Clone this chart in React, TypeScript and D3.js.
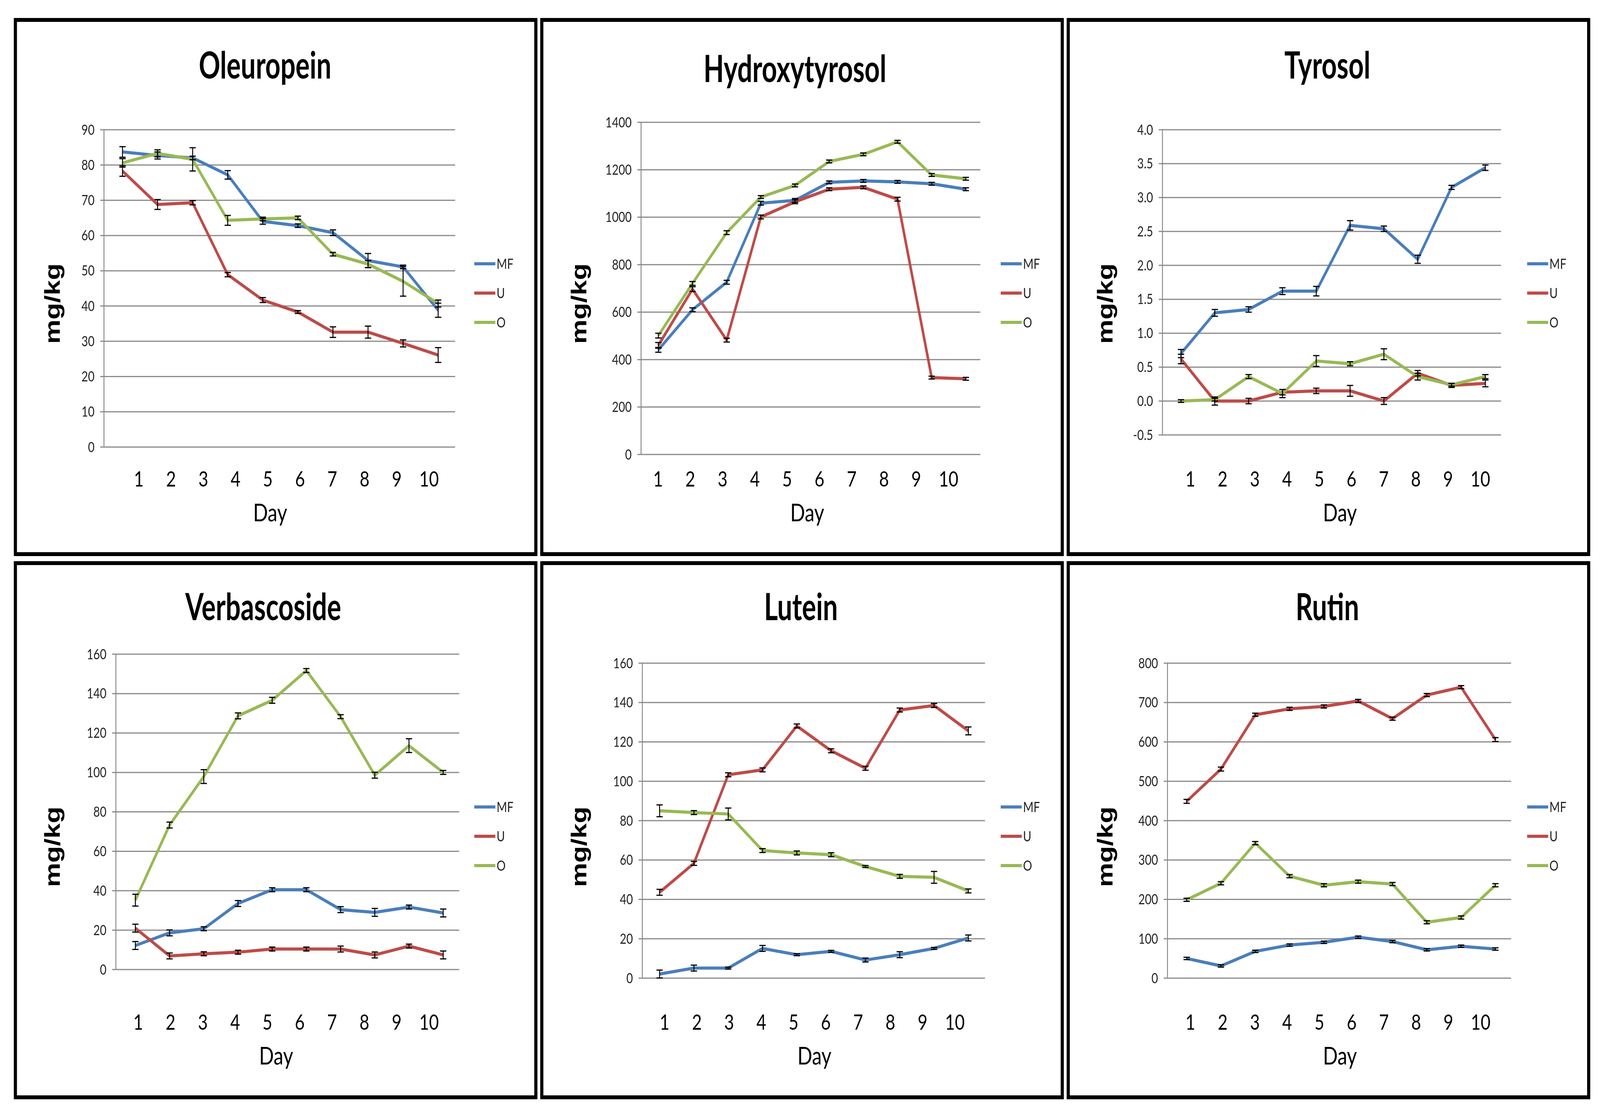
import { useEffect, useRef } from "react";
import * as d3 from "d3";

// shared
const DAYS = [1, 2, 3, 4, 5, 6, 7, 8, 9, 10];
const SERIES = ["MF", "U", "O"];
const COLORS = ["#4A7EBB", "#BE4B48", "#98B954"];

// Oleuropein
const OLE_TICKS = [0, 10, 20, 30, 40, 50, 60, 70, 80, 90];
const OLE_MF = [83.7, 82.7, 82.0, 77.2, 64.0, 62.8, 60.8, 52.9, 51.1, 38.8];
const OLE_U = [78.3, 68.8, 69.3, 48.9, 41.7, 38.3, 32.6, 32.6, 29.4, 26.1];
const OLE_O = [80.6, 83.3, 81.6, 64.3, 64.7, 65.0, 54.7, 51.9, 47.0, 40.7];
const OLE_MF_ERR = [1.5, 1.0, 0.5, 1.2, 0.8, 0.5, 0.8, 2.0, 0.5, 2.0];
const OLE_U_ERR = [1.5, 1.4, 0.6, 0.6, 0.7, 0.4, 1.5, 1.7, 1.0, 2.1];
const OLE_O_ERR = [1.2, 1.0, 3.3, 1.4, 0.5, 0.5, 0.5, 1.0, 4.2, 1.0];

// Hydroxytyrosol
const HYD_TICKS = [0, 200, 400, 600, 800, 1000, 1200, 1400];
const HYD_MF = [441, 610, 726, 1059, 1071, 1147, 1153, 1149, 1141, 1118];
const HYD_U = [460, 697, 482, 1001, 1065, 1118, 1126, 1076, 324, 319];
const HYD_O = [501, 721, 935, 1085, 1134, 1235, 1265, 1318, 1178, 1162];
const HYD_MF_ERR = [10, 8, 8, 8, 8, 6, 6, 6, 6, 6];
const HYD_U_ERR = [12, 10, 8, 8, 8, 6, 6, 8, 6, 6];
const HYD_O_ERR = [10, 8, 8, 6, 6, 6, 6, 6, 6, 6];

// Tyrosol
const TYR_TICKS = [-0.5, 0, 0.5, 1.0, 1.5, 2.0, 2.5, 3.0, 3.5, 4.0];
const TYR_MF = [0.7, 1.3, 1.35, 1.62, 1.62, 2.59, 2.54, 2.09, 3.15, 3.44];
const TYR_U = [0.62, 0.0, 0.0, 0.13, 0.15, 0.15, 0.0, 0.41, 0.23, 0.26];
const TYR_O = [0.0, 0.02, 0.36, 0.11, 0.59, 0.55, 0.69, 0.36, 0.24, 0.36];
const TYR_MF_ERR = [0.06, 0.05, 0.04, 0.05, 0.07, 0.07, 0.04, 0.06, 0.03, 0.04];
const TYR_U_ERR = [0.07, 0.06, 0.04, 0.04, 0.04, 0.08, 0.05, 0.04, 0.03, 0.05];
const TYR_O_ERR = [0.02, 0.02, 0.03, 0.06, 0.08, 0.03, 0.08, 0.05, 0.02, 0.03];

// Verbascoside
const VER_TICKS = [0, 20, 40, 60, 80, 100, 120, 140, 160];
const VER_MF = [12.2, 18.6, 20.7, 33.5, 40.5, 40.5, 30.4, 29.0, 31.7, 28.7];
const VER_U = [21.0, 6.9, 8.0, 8.8, 10.4, 10.4, 10.4, 7.4, 11.9, 7.4];
const VER_O = [35.2, 73.3, 97.9, 128.7, 136.6, 151.7, 128.3, 98.6, 113.6, 100.0];
const VER_MF_ERR = [2, 1.5, 1, 1.5, 1, 1, 1.5, 2, 1, 2];
const VER_U_ERR = [2, 1.5, 1, 1, 1, 1, 1.5, 1.5, 1, 2];
const VER_O_ERR = [3, 1.5, 3.5, 1.5, 1.5, 1, 1, 1.5, 3.5, 1];

// Lutein
const LUT_TICKS = [0, 20, 40, 60, 80, 100, 120, 140, 160];
const LUT_MF = [2.1, 5.1, 5.1, 15.1, 11.9, 13.6, 9.2, 11.9, 15.1, 20.4];
const LUT_U = [43.6, 58.3, 103.3, 105.8, 128.1, 115.5, 106.6, 136.2, 138.5, 125.6];
const LUT_O = [85.0, 84.1, 83.4, 64.8, 63.6, 62.7, 56.7, 51.7, 51.2, 44.3];
const LUT_MF_ERR = [2, 1.5, 0.5, 1.5, 0.5, 0.5, 1, 1.5, 0.5, 1.5];
const LUT_U_ERR = [1.5, 1, 1, 1, 1, 1, 1, 1, 1, 2];
const LUT_O_ERR = [3, 1, 3, 1, 1, 1, 0.5, 1, 3, 1];

// Rutin
const RUT_TICKS = [0, 100, 200, 300, 400, 500, 600, 700, 800];
const RUT_MF = [50, 31, 68, 84, 91, 104, 93, 72, 81, 74];
const RUT_U = [449, 531, 669, 684, 690, 704, 659, 719, 739, 606];
const RUT_O = [199, 241, 343, 259, 236, 245, 239, 142, 154, 236];
const RUT_MF_ERR = [3, 3, 3, 3, 3, 3, 3, 3, 3, 3];
const RUT_U_ERR = [5, 5, 4, 4, 4, 4, 4, 4, 4, 5];
const RUT_O_ERR = [4, 4, 4, 4, 4, 4, 4, 4, 4, 4];

type Panel = {
  title: string;
  ticks: number[];
  fmt: (v: number) => string;
  values: number[][];
  errors: number[][];
  // layout inside the frame
  ox: number;
  oy: number;
  axis: [number, number, number, number]; // left, right, top, bottom
  pts: [number, number];
  lbl: [number, number];
  titleX: number;
  titleY: number;
  dayX: number;
};

const int = (v: number) => String(v);
const one = (v: number) => v.toFixed(1);

const PANELS: Panel[] = [
  { title: "Oleuropein", ticks: OLE_TICKS, fmt: int, values: [OLE_MF, OLE_U, OLE_O], errors: [OLE_MF_ERR, OLE_U_ERR, OLE_O_ERR],
    ox: 49, oy: 51, axis: [282, 1400, 281, 1093], pts: [341, 1346], lbl: [393, 1317], titleX: 795, titleY: 150, dayX: 811 },
  { title: "Hydroxytyrosol", ticks: HYD_TICKS, fmt: int, values: [HYD_MF, HYD_U, HYD_O], errors: [HYD_MF_ERR, HYD_U_ERR, HYD_O_ERR],
    ox: 1725, oy: 51, axis: [316, 1396, 262, 1112], pts: [371, 1350], lbl: [370, 1295], titleX: 806, titleY: 159, dayX: 845 },
  { title: "Tyrosol", ticks: TYR_TICKS, fmt: one, values: [TYR_MF, TYR_U, TYR_O], errors: [TYR_MF_ERR, TYR_U_ERR, TYR_O_ERR],
    ox: 3401, oy: 51, axis: [300, 1378, 281, 1062], pts: [359, 1328], lbl: [389, 1312], titleX: 825, titleY: 150, dayX: 865 },
  { title: "Verbascoside", ticks: VER_TICKS, fmt: int, values: [VER_MF, VER_U, VER_O], errors: [VER_MF_ERR, VER_U_ERR, VER_O_ERR],
    ox: 49, oy: 1441, axis: [320, 1413, 233, 1040], pts: [382, 1362], lbl: [391, 1317], titleX: 789, titleY: 146, dayX: 830 },
  { title: "Lutein", ticks: LUT_TICKS, fmt: int, values: [LUT_MF, LUT_U, LUT_O], errors: [LUT_MF_ERR, LUT_U_ERR, LUT_O_ERR],
    ox: 1725, oy: 1441, axis: [320, 1411, 256, 1062], pts: [375, 1358], lbl: [391, 1315], titleX: 825, titleY: 146, dayX: 868 },
  { title: "Rutin", ticks: RUT_TICKS, fmt: int, values: [RUT_MF, RUT_U, RUT_O], errors: [RUT_MF_ERR, RUT_U_ERR, RUT_O_ERR],
    ox: 3401, oy: 1441, axis: [316, 1410, 256, 1062], pts: [377, 1360], lbl: [389, 1313], titleX: 825, titleY: 146, dayX: 865 },
];

const W = 5094;
const H = 2843;
const FW = 1657;
const FH = 1367;
const FONT = "Lato, 'Open Sans', sans-serif";

export default function App() {
  const ref = useRef<SVGSVGElement>(null);

  useEffect(() => {
    document.body.style.margin = "0";
    if (!ref.current) return;
    const svg = d3.select(ref.current);
    svg.selectAll("*").remove();

    svg.append("rect").attr("width", W).attr("height", H).attr("fill", "#fff");

    PANELS.forEach((p) => {
      const g = svg.append("g").attr("transform", `translate(${p.ox},${p.oy})`);
      const [left, right, top, bottom] = p.axis;

      // frame
      g.append("rect")
        .attr("x", 0)
        .attr("y", 0)
        .attr("width", FW)
        .attr("height", FH)
        .attr("fill", "#fff")
        .attr("stroke", "#000")
        .attr("stroke-width", 10);

      // title, a bit condensed like the original
      g.append("text")
        .attr("transform", `translate(${p.titleX},${p.titleY}) scale(0.88,1)`)
        .attr("text-anchor", "middle")
        .attr("font-family", FONT)
        .attr("font-weight", 700)
        .attr("font-size", 96)
        .attr("fill", "#000")
        .text(p.title);

      const y = d3
        .scaleLinear()
        .domain([p.ticks[0], p.ticks[p.ticks.length - 1]])
        .range([bottom, top]);
      const x = d3.scalePoint<number>().domain(DAYS).range(p.pts);
      const xl = d3.scalePoint<number>().domain(DAYS).range(p.lbl);

      // gridlines
      g.append("g")
        .selectAll("line")
        .data(p.ticks)
        .join("line")
        .attr("x1", left - 12)
        .attr("x2", right)
        .attr("y1", (d) => y(d))
        .attr("y2", (d) => y(d))
        .attr("stroke", "#8a8a8a")
        .attr("stroke-width", 3);

      // y axis
      g.append("line")
        .attr("x1", left)
        .attr("x2", left)
        .attr("y1", top)
        .attr("y2", bottom)
        .attr("stroke", "#8a8a8a")
        .attr("stroke-width", 3);

      // y tick labels
      g.append("g")
        .selectAll("text")
        .data(p.ticks)
        .join("text")
        .attr("x", left - 30)
        .attr("y", (d) => y(d))
        .attr("dy", "0.35em")
        .attr("text-anchor", "end")
        .attr("font-family", FONT)
        .attr("font-size", 36)
        .attr("fill", "#222")
        .text((d) => p.fmt(d));

      // x labels
      g.append("g")
        .selectAll("text")
        .data(DAYS)
        .join("text")
        .attr("x", (d) => xl(d) ?? 0)
        .attr("y", 1175)
        .attr("dy", "0.35em")
        .attr("text-anchor", "middle")
        .attr("font-family", FONT)
        .attr("font-size", 54)
        .attr("fill", "#000")
        .text((d) => String(d));

      g.append("text")
        .attr("x", p.dayX)
        .attr("y", 1261)
        .attr("dy", "0.35em")
        .attr("text-anchor", "middle")
        .attr("font-family", FONT)
        .attr("font-size", 62)
        .attr("fill", "#000")
        .text("Day");

      g.append("text")
        .attr("transform", `translate(117,726) rotate(-90)`)
        .attr("dy", "0.35em")
        .attr("text-anchor", "middle")
        .attr("font-family", "'Liberation Sans', Arial, sans-serif")
        .attr("font-weight", 700)
        .attr("font-size", 70)
        .attr("fill", "#000")
        .text("mg/kg");

      const line = d3
        .line<number>()
        .x((_, i) => x(DAYS[i]) ?? 0)
        .y((d) => y(d));

      // series lines
      p.values.forEach((vals, s) => {
        g.append("path")
          .datum(vals)
          .attr("fill", "none")
          .attr("stroke", COLORS[s])
          .attr("stroke-width", 8)
          .attr("stroke-linejoin", "round")
          .attr("d", line);
      });

      // error bars
      p.values.forEach((vals, s) => {
        const eg = g.append("g").attr("stroke", "#000").attr("stroke-width", 3);
        vals.forEach((v, i) => {
          const cx = x(DAYS[i]) ?? 0;
          const e = p.errors[s][i];
          const y1 = y(v - e);
          const y2 = y(v + e);
          eg.append("line").attr("x1", cx).attr("x2", cx).attr("y1", y1).attr("y2", y2);
          eg.append("line").attr("x1", cx - 10).attr("x2", cx + 10).attr("y1", y1).attr("y2", y1);
          eg.append("line").attr("x1", cx - 10).attr("x2", cx + 10).attr("y1", y2).attr("y2", y2);
        });
      });

      // legend
      const leg = g.append("g");
      SERIES.forEach((name, s) => {
        const ly = 624 + s * 75;
        leg.append("line")
          .attr("x1", 1461)
          .attr("x2", 1528)
          .attr("y1", ly)
          .attr("y2", ly)
          .attr("stroke", COLORS[s])
          .attr("stroke-width", 8);
        leg.append("text")
          .attr("x", 1532)
          .attr("y", ly)
          .attr("dy", "0.35em")
          .attr("font-family", FONT)
          .attr("font-size", 36)
          .attr("fill", "#222")
          .text(name);
      });
    });
  }, []);

  return (
    <div style={{ position: "fixed", left: 0, top: 0, width: "100vw", height: "100vh", overflow: "hidden" }}>
      <svg
        ref={ref}
        viewBox={`0 0 ${W} ${H}`}
        preserveAspectRatio="none"
        style={{ display: "block", width: "100vw", height: "100vh" }}
      />
    </div>
  );
}
